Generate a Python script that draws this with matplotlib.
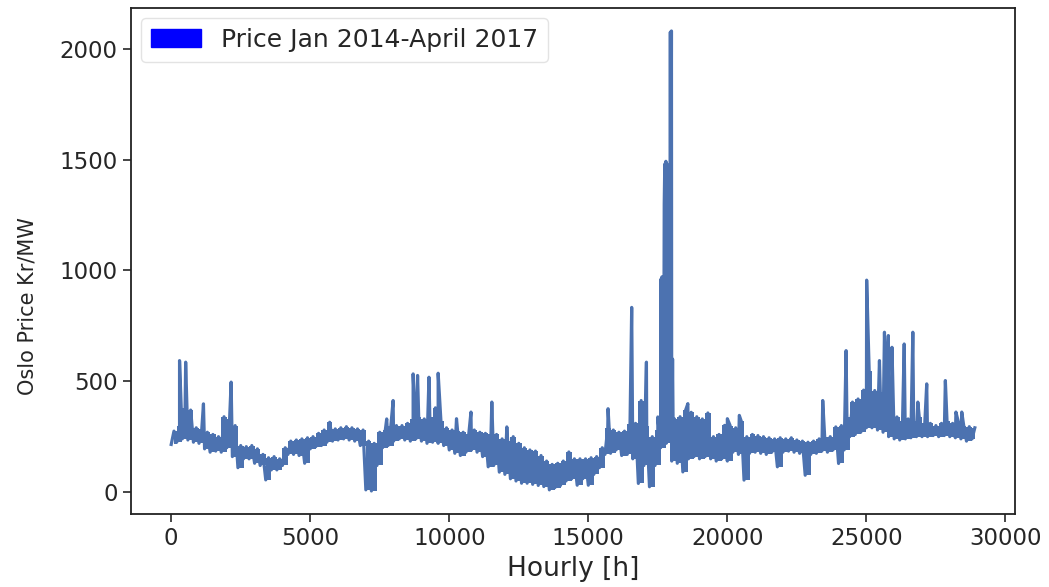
import numpy as np
import matplotlib
matplotlib.use("Agg")
import matplotlib.pyplot as plt
import matplotlib.patches as mpatches

# band of the hourly price, one low and one high reading per 200 hours
band_low = [
    215, 225, 240, 235, 225, 220, 195, 180, 185, 180,
    200, 160, 110, 150, 150, 130, 120, 55, 100, 100,
    120, 170, 170, 165, 130, 195, 205, 210, 225, 230,
    235, 240, 235, 230, 210, 10, 5, 120, 200, 210,
    230, 240, 235, 230, 240, 230, 220, 225, 220, 210,
    190, 175, 165, 180, 190, 180, 160, 114, 120, 90,
    80, 60, 50, 40, 40, 35, 30, 25, 10, 20,
    30, 50, 60, 31, 60, 31, 80, 110, 170, 175,
    190, 165, 170, 150, 39, 120, 24, 120, 200, 220,
    140, 130, 91, 150, 160, 150, 160, 150, 140, 150,
    140, 180, 170, 54, 175, 180, 175, 170, 180, 114,
    180, 185, 180, 175, 76, 170, 175, 185, 180, 190,
    129, 190, 250, 260, 270, 290, 290, 280, 270, 250,
    240, 235, 240, 245, 250, 250, 250, 255, 250, 255,
    250, 245, 240, 230, 240,
]
band_high = [
    275, 300, 380, 370, 290, 285, 270, 260, 250, 340,
    330, 300, 210, 205, 210, 195, 170, 155, 160, 150,
    200, 230, 235, 240, 245, 250, 265, 280, 315, 285,
    290, 295, 290, 285, 280, 230, 220, 270, 280, 300,
    300, 300, 310, 330, 340, 330, 340, 380, 320, 290,
    280, 275, 270, 260, 280, 270, 265, 260, 260, 240,
    230, 250, 220, 200, 190, 185, 165, 140, 125, 130,
    140, 181, 150, 150, 150, 155, 160, 200, 290, 280,
    270, 275, 309, 310, 413, 300, 250, 280, 400, 400,
    330, 340, 370, 360, 340, 330, 357, 250, 260, 301,
    300, 290, 320, 250, 260, 255, 250, 245, 240, 245,
    240, 245, 235, 230, 225, 230, 240, 250, 250, 294,
    300, 339, 406, 420, 460, 548, 458, 450, 420, 400,
    339, 320, 330, 320, 340, 310, 310, 300, 310, 320,
    310, 320, 300, 295, 290,
]

# short price spikes (hour, Kr/MW)
spike_hours = [
    300, 520, 1160, 2155, 7750, 7980, 8700, 8860, 9270, 9600,
    10260, 10780, 11530, 12070, 15710, 16560, 17090, 17500,
    17610, 17630, 17650, 17670, 17690, 17710, 17730, 17750, 17770, 17790,
    17810, 17830, 17850, 17870, 17890, 17910, 17930, 17950, 17970, 17990,
    18010, 18030, 18050,
    18580, 20000, 20430, 23430, 24270, 25010, 25470, 25650, 25790, 25920,
    26360, 26670, 26850, 27170, 27840, 28220, 28430,
]
spike_values = [
    593, 586, 398, 496, 330, 413, 533, 526, 518, 536,
    331, 361, 406, 294, 376, 833, 586, 339,
    960, 250, 971, 300, 950, 280, 1300, 1480, 300, 1492,
    350, 1480, 300, 1470, 400, 1450, 500, 2075, 600, 2080,
    300, 600, 300,
    399, 331, 346, 413, 638, 956, 593, 721, 706, 653,
    668, 721, 406, 488, 503, 361, 361,
]

line_col = "#4c72b0"
text_col = "#262626"

block_hours = np.arange(len(band_low)) * 200 + 100
band_hours = np.arange(0, 200 * len(band_low), 100)
band_values = np.column_stack([band_low, band_high]).ravel()

hours = np.concatenate([band_hours, spike_hours])
price = np.concatenate([band_values, spike_values])
order = np.argsort(hours, kind="stable")
hours, price = hours[order], price[order]

fig = plt.figure(figsize=(10.49, 5.87), dpi=100)
ax = fig.add_axes([0.1249, 0.1244, 0.8427, 0.8620])
ax.fill_between(block_hours, band_low, band_high, step="mid",
                color=line_col, lw=0)
ax.plot(hours, price, color=line_col, lw=2.3)

ax.set_xticks(range(0, 30001, 5000))
ax.set_yticks(range(0, 2001, 500))
ax.tick_params(labelsize=16.5, colors=text_col, length=6, width=1.2)
ax.set_xlabel("Hourly [h]", fontsize=19, color=text_col, labelpad=4)
ax.set_ylabel("Oslo Price Kr/MW", fontsize=15, color=text_col)
ax.yaxis.set_label_coords(-0.106, 0.41)
for s in ax.spines.values():
    s.set_color("#222222")
    s.set_linewidth(1.3)

patch = mpatches.Patch(color="blue", label="Price Jan 2014-April 2017")
leg = ax.legend(handles=[patch], loc="upper left", fontsize=18, framealpha=0.8,
                borderaxespad=0.4, handletextpad=0.8)
leg.get_frame().set_edgecolor("#dddddd")
for t in leg.get_texts():
    t.set_color(text_col)

fig.savefig("out.png", dpi=100)
